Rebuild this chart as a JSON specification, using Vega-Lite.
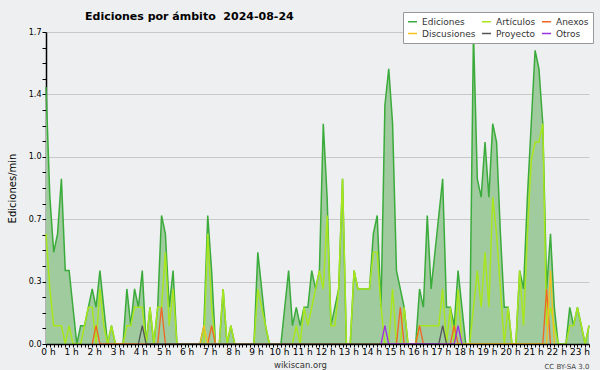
{
  "$schema": "https://vega.github.io/schema/vega-lite/v6.json",
  "width": 543,
  "height": 312,
  "autosize": "none",
  "padding": {"left": 46, "top": 32, "right": 11, "bottom": 26},
  "background": "#eeeff0",
  "config": {
    "view": {"stroke": null},
    "font": "DejaVu Sans",
    "legend": {
      "orient": "none",
      "legendX": 357,
      "legendY": -20,
      "columns": 3,
      "title": null,
      "symbolType": "stroke",
      "symbolStrokeWidth": 1.5,
      "symbolSize": 81,
      "labelFont": "DejaVu Sans",
      "labelFontSize": 9,
      "labelColor": "#333333",
      "labelOffset": 4,
      "columnPadding": 3,
      "rowPadding": 1,
      "padding": 4,
      "fillColor": "#ffffff",
      "strokeColor": "#999999"
    }
  },
  "title": {
    "text": "Ediciones por ámbito\u00a0 2024-08-24",
    "anchor": "start",
    "frame": "group",
    "dx": 39,
    "dy": 30,
    "offset": 11,
    "baseline": "alphabetic",
    "font": "DejaVu Sans",
    "fontSize": 11,
    "fontWeight": "bold",
    "color": "#000000"
  },
  "datasets": {
    "main": [
      {"t":0,"ediciones":1.4,"articulos":0.6},{"t":10,"ediciones":0.8,"articulos":0.3},{"t":20,"ediciones":0.5,"articulos":0.1},{"t":30,"ediciones":0.6,"articulos":0.1},{"t":40,"ediciones":0.9,"articulos":0.1},{"t":50,"ediciones":0.4,"articulos":0},{"t":60,"ediciones":0.4,"articulos":0.1},{"t":70,"ediciones":0.2,"articulos":0},{"t":80,"ediciones":0,"articulos":0},{"t":90,"ediciones":0.1,"articulos":0},
      {"t":100,"ediciones":0.1,"articulos":0.1},{"t":110,"ediciones":0.2,"articulos":0.2},{"t":120,"ediciones":0.3,"articulos":0.2},{"t":130,"ediciones":0.2,"articulos":0},{"t":140,"ediciones":0.4,"articulos":0.3},{"t":150,"ediciones":0.2,"articulos":0.1},{"t":160,"ediciones":0,"articulos":0},{"t":170,"ediciones":0.1,"articulos":0.1},{"t":180,"ediciones":0,"articulos":0},{"t":190,"ediciones":0,"articulos":0},
      {"t":200,"ediciones":0,"articulos":0},{"t":210,"ediciones":0.3,"articulos":0.1},{"t":220,"ediciones":0.1,"articulos":0.1},{"t":230,"ediciones":0.3,"articulos":0.2},{"t":240,"ediciones":0.2,"articulos":0.2},{"t":250,"ediciones":0.4,"articulos":0.2},{"t":260,"ediciones":0,"articulos":0},{"t":270,"ediciones":0.2,"articulos":0.2},{"t":280,"ediciones":0,"articulos":0},{"t":290,"ediciones":0.2,"articulos":0.2},
      {"t":300,"ediciones":0.7,"articulos":0.2},{"t":310,"ediciones":0.6,"articulos":0.5},{"t":320,"ediciones":0.2,"articulos":0.1},{"t":330,"ediciones":0.4,"articulos":0.3},{"t":340,"ediciones":0,"articulos":0},{"t":350,"ediciones":0,"articulos":0},{"t":360,"ediciones":0,"articulos":0},{"t":370,"ediciones":0,"articulos":0},{"t":380,"ediciones":0,"articulos":0},{"t":390,"ediciones":0,"articulos":0},
      {"t":400,"ediciones":0,"articulos":0},{"t":410,"ediciones":0.1,"articulos":0},{"t":420,"ediciones":0.7,"articulos":0.6},{"t":430,"ediciones":0.4,"articulos":0.2},{"t":440,"ediciones":0,"articulos":0},{"t":450,"ediciones":0,"articulos":0},{"t":460,"ediciones":0.3,"articulos":0.3},{"t":470,"ediciones":0,"articulos":0},{"t":480,"ediciones":0.1,"articulos":0.1},{"t":490,"ediciones":0,"articulos":0},
      {"t":500,"ediciones":0,"articulos":0},{"t":510,"ediciones":0,"articulos":0},{"t":520,"ediciones":0,"articulos":0},{"t":530,"ediciones":0,"articulos":0},{"t":540,"ediciones":0,"articulos":0},{"t":550,"ediciones":0.5,"articulos":0.3},{"t":560,"ediciones":0.3,"articulos":0.2},{"t":570,"ediciones":0.1,"articulos":0.1},{"t":580,"ediciones":0,"articulos":0},{"t":590,"ediciones":0,"articulos":0},
      {"t":600,"ediciones":0,"articulos":0},{"t":610,"ediciones":0,"articulos":0},{"t":620,"ediciones":0.2,"articulos":0},{"t":630,"ediciones":0.4,"articulos":0},{"t":640,"ediciones":0.1,"articulos":0},{"t":650,"ediciones":0.2,"articulos":0.1},{"t":660,"ediciones":0.1,"articulos":0},{"t":670,"ediciones":0.2,"articulos":0.2},{"t":680,"ediciones":0.2,"articulos":0.1},{"t":690,"ediciones":0.4,"articulos":0.2},
      {"t":700,"ediciones":0.3,"articulos":0.3},{"t":710,"ediciones":0.4,"articulos":0.4},{"t":720,"ediciones":1.2,"articulos":0.3},{"t":730,"ediciones":0.8,"articulos":0.7},{"t":740,"ediciones":0.1,"articulos":0.1},{"t":750,"ediciones":0.2,"articulos":0.1},{"t":760,"ediciones":0.3,"articulos":0.3},{"t":770,"ediciones":0.9,"articulos":0.9},{"t":780,"ediciones":0,"articulos":0},{"t":790,"ediciones":0,"articulos":0},
      {"t":800,"ediciones":0.4,"articulos":0.4},{"t":810,"ediciones":0.3,"articulos":0.3},{"t":820,"ediciones":0.3,"articulos":0.3},{"t":830,"ediciones":0.3,"articulos":0.3},{"t":840,"ediciones":0.3,"articulos":0.3},{"t":850,"ediciones":0.6,"articulos":0.5},{"t":860,"ediciones":0.7,"articulos":0.5},{"t":870,"ediciones":0.2,"articulos":0.2},{"t":880,"ediciones":1.3,"articulos":0},{"t":890,"ediciones":1.5,"articulos":0},
      {"t":900,"ediciones":1.2,"articulos":0.3},{"t":910,"ediciones":0.4,"articulos":0},{"t":920,"ediciones":0.3,"articulos":0},{"t":930,"ediciones":0.2,"articulos":0.2},{"t":940,"ediciones":0,"articulos":0},{"t":950,"ediciones":0,"articulos":0},{"t":960,"ediciones":0,"articulos":0},{"t":970,"ediciones":0.3,"articulos":0.1},{"t":980,"ediciones":0.2,"articulos":0.1},{"t":990,"ediciones":0.7,"articulos":0.1},
      {"t":1000,"ediciones":0.3,"articulos":0.1},{"t":1010,"ediciones":0.5,"articulos":0.1},{"t":1020,"ediciones":0.7,"articulos":0.1},{"t":1030,"ediciones":0.9,"articulos":0.3},{"t":1040,"ediciones":0.2,"articulos":0},{"t":1050,"ediciones":0.2,"articulos":0.2},{"t":1060,"ediciones":0.1,"articulos":0},{"t":1070,"ediciones":0.4,"articulos":0.3},{"t":1080,"ediciones":0.2,"articulos":0},{"t":1090,"ediciones":0,"articulos":0},
      {"t":1100,"ediciones":0,"articulos":0},{"t":1110,"ediciones":1.7,"articulos":0.2},{"t":1120,"ediciones":0.9,"articulos":0.4},{"t":1130,"ediciones":0.8,"articulos":0.2},{"t":1140,"ediciones":1.1,"articulos":0.5},{"t":1150,"ediciones":0.8,"articulos":0.2},{"t":1160,"ediciones":1.2,"articulos":0.8},{"t":1170,"ediciones":1.1,"articulos":0.6},{"t":1180,"ediciones":0.6,"articulos":0.3},{"t":1190,"ediciones":0.2,"articulos":0},
      {"t":1200,"ediciones":0.2,"articulos":0.2},{"t":1210,"ediciones":0,"articulos":0},{"t":1220,"ediciones":0,"articulos":0},{"t":1230,"ediciones":0.4,"articulos":0.4},{"t":1240,"ediciones":0.3,"articulos":0.1},{"t":1250,"ediciones":0.8,"articulos":0.6},{"t":1260,"ediciones":1.2,"articulos":1.0},{"t":1270,"ediciones":1.6,"articulos":1.1},{"t":1280,"ediciones":1.5,"articulos":1.1},{"t":1290,"ediciones":1.2,"articulos":1.2},
      {"t":1300,"ediciones":0.3,"articulos":0.1},{"t":1310,"ediciones":0.6,"articulos":0.2},{"t":1320,"ediciones":0.2,"articulos":0.1},{"t":1330,"ediciones":0,"articulos":0},{"t":1340,"ediciones":0,"articulos":0},{"t":1350,"ediciones":0,"articulos":0},{"t":1360,"ediciones":0.2,"articulos":0.1},{"t":1370,"ediciones":0.1,"articulos":0.1},{"t":1380,"ediciones":0.2,"articulos":0.2},{"t":1390,"ediciones":0.1,"articulos":0.1},
      {"t":1400,"ediciones":0,"articulos":0},{"t":1410,"ediciones":0.1,"articulos":0.1}
    ],
    "minor": [
      {"t":120,"serie":"Anexos","v":0},{"t":130,"serie":"Anexos","v":0.1},{"t":140,"serie":"Anexos","v":0},
      {"t":290,"serie":"Anexos","v":0},{"t":300,"serie":"Anexos","v":0.2},{"t":310,"serie":"Anexos","v":0},
      {"t":420,"serie":"Anexos","v":0},{"t":430,"serie":"Anexos","v":0.1},{"t":440,"serie":"Anexos","v":0},
      {"t":910,"serie":"Anexos","v":0},{"t":920,"serie":"Anexos","v":0.2},{"t":930,"serie":"Anexos","v":0},
      {"t":960,"serie":"Anexos","v":0},{"t":970,"serie":"Anexos","v":0.1},{"t":980,"serie":"Anexos","v":0},
      {"t":1050,"serie":"Anexos","v":0},{"t":1060,"serie":"Anexos","v":0.1},{"t":1070,"serie":"Anexos","v":0},
      {"t":1290,"serie":"Anexos","v":0},{"t":1300,"serie":"Anexos","v":0.3},{"t":1310,"serie":"Anexos","v":0},
      {"t":400,"serie":"Discusiones","v":0},{"t":410,"serie":"Discusiones","v":0.1},{"t":420,"serie":"Discusiones","v":0},
      {"t":1300,"serie":"Discusiones","v":0},{"t":1310,"serie":"Discusiones","v":0.4},{"t":1320,"serie":"Discusiones","v":0},
      {"t":240,"serie":"Proyecto","v":0},{"t":250,"serie":"Proyecto","v":0.1},{"t":260,"serie":"Proyecto","v":0},
      {"t":1020,"serie":"Proyecto","v":0},{"t":1030,"serie":"Proyecto","v":0.1},{"t":1040,"serie":"Proyecto","v":0},
      {"t":870,"serie":"Otros","v":0},{"t":880,"serie":"Otros","v":0.1},{"t":890,"serie":"Otros","v":0},
      {"t":1060,"serie":"Otros","v":0},{"t":1070,"serie":"Otros","v":0.1},{"t":1080,"serie":"Otros","v":0}
    ]
  },
  "resolve": {"axis": {"x": "independent", "y": "independent"}},
  "layer": [
    {
      "data": {"name": "main"},
      "mark": {"type": "area", "color": "#9fcb9f", "opacity": 1, "fillOpacity": 1},
      "encoding": {
        "x": {
          "field": "t", "type": "quantitative",
          "scale": {"domain": [0, 1410], "nice": false, "zero": false},
          "axis": {
            "orient": "bottom",
            "tickCount": 141,
            "labelExpr": "datum.value % 60 === 0 ? (datum.value / 60) + ' h' : ''",
            "labelOverlap": false,
            "labelFlush": false,
            "labelAlign": "center",
            "labelOffset": 2,
            "labelPadding": 0,
            "labelFont": "DejaVu Sans",
            "labelFontSize": 9,
            "labelColor": "#000000",
            "tickSize": 3,
            "tickColor": "#000000",
            "tickWidth": 1,
            "domainColor": "#000000",
            "domainWidth": 1.5,
            "grid": false,
            "zindex": 1,
            "title": "wikiscan.org",
            "titleFont": "DejaVu Sans",
            "titleFontSize": 8.5,
            "titleFontWeight": "normal",
            "titleColor": "#333333",
            "titleX": 254,
            "titleY": 23,
            "titleAlign": "center",
            "titleBaseline": "alphabetic"
          }
        },
        "y": {
          "field": "ediciones", "type": "quantitative",
          "scale": {"domain": [0, 1.7], "nice": false},
          "axis": {
            "orient": "left",
            "values": [0, 0.34, 0.68, 1.02, 1.36, 1.7],
            "format": ".1f",
            "labelOverlap": false,
            "labelFlush": false,
            "grid": true,
            "gridColor": "#c8c8c8",
            "gridWidth": 1,
            "tickSize": 4,
            "tickColor": "#000000",
            "domainColor": "#000000",
            "domainWidth": 1.5,
            "labelFont": "DejaVu Sans",
            "labelFontSize": 8,
            "labelColor": "#000000",
            "labelPadding": 1,
            "title": "Ediciones/min",
            "titleFont": "DejaVu Sans",
            "titleFontSize": 10,
            "titleFontWeight": "normal",
            "titleColor": "#000000",
            "titleX": -34,
            "titleY": 156,
            "titleAngle": 270,
            "titleAlign": "center",
            "titleBaseline": "middle"
          }
        }
      }
    },
    {
      "data": {"name": "main"},
      "mark": {"type": "line", "strokeWidth": 1.5},
      "encoding": {
        "x": {
          "field": "t", "type": "quantitative",
          "scale": {"domain": [0, 1410], "nice": false, "zero": false},
          "axis": {
            "orient": "bottom",
            "domain": false, "ticks": false, "labels": false, "grid": false,
            "title": "CC BY-SA 3.0",
            "titleFont": "DejaVu Sans",
            "titleFontSize": 7,
            "titleFontWeight": "normal",
            "titleColor": "#444444",
            "titleX": 543,
            "titleY": 24,
            "titleAlign": "right",
            "titleAnchor": "end",
            "titleBaseline": "alphabetic"
          }
        },
        "y": {
          "field": "ediciones", "type": "quantitative",
          "scale": {"domain": [0, 1.7], "nice": false},
          "axis": {
            "orient": "left",
            "values": [0.085, 0.17, 0.255, 0.425, 0.51, 0.595, 0.765, 0.85, 0.935, 1.105, 1.19, 1.275, 1.445, 1.53, 1.615],
            "domain": false, "labels": false, "grid": false,
            "tickSize": 4, "tickColor": "#000000",
            "title": null
          }
        },
        "color": {
          "datum": "Ediciones", "type": "nominal",
          "scale": {"domain": ["Ediciones", "Discusiones", "Artículos", "Proyecto", "Anexos", "Otros"], "range": ["#3bab3b", "#f5c21b", "#a8e61d", "#555555", "#f26522", "#9b30e0"]}
        }
      }
    },
    {
      "data": {"name": "main"},
      "mark": {"type": "line", "strokeWidth": 1.5},
      "encoding": {
        "x": {"field": "t", "type": "quantitative", "scale": {"domain": [0, 1410], "nice": false, "zero": false}, "axis": null},
        "y": {"field": "articulos", "type": "quantitative", "scale": {"domain": [0, 1.7], "nice": false}, "axis": null},
        "color": {
          "datum": "Artículos", "type": "nominal",
          "scale": {"domain": ["Ediciones", "Discusiones", "Artículos", "Proyecto", "Anexos", "Otros"], "range": ["#3bab3b", "#f5c21b", "#a8e61d", "#555555", "#f26522", "#9b30e0"]}
        }
      }
    },
    {
      "data": {"name": "minor"},
      "mark": {"type": "line", "strokeWidth": 1.3},
      "encoding": {
        "x": {"field": "t", "type": "quantitative", "scale": {"domain": [0, 1410], "nice": false, "zero": false}, "axis": null},
        "y": {"field": "v", "type": "quantitative", "scale": {"domain": [0, 1.7], "nice": false}, "axis": null},
        "color": {
          "field": "serie", "type": "nominal",
          "scale": {"domain": ["Ediciones", "Discusiones", "Artículos", "Proyecto", "Anexos", "Otros"], "range": ["#3bab3b", "#f5c21b", "#a8e61d", "#555555", "#f26522", "#9b30e0"]}
        }
      }
    }
  ]
}
